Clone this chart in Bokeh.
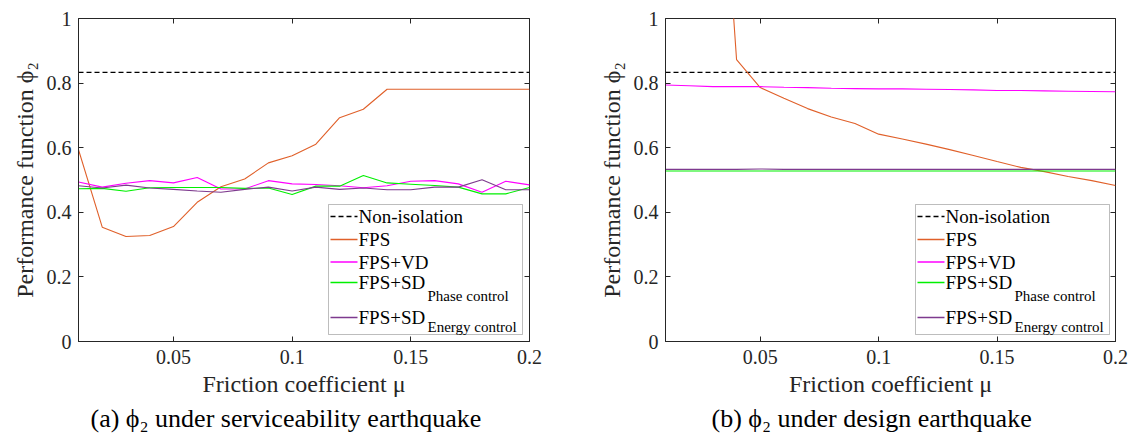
from bokeh.plotting import figure
from bokeh.layouts import row
from bokeh.models import (FixedTicker, LinearAxis, Label, BoxAnnotation, Arrow,
                          CustomJSTickFormatter, Title)
from bokeh.embed import file_html
from bokeh.resources import INLINE

# ---------------- data ----------------
mu = [0.01, 0.02, 0.03, 0.04, 0.05, 0.06, 0.07, 0.08, 0.09, 0.10,
      0.11, 0.12, 0.13, 0.14, 0.15, 0.16, 0.17, 0.18, 0.19, 0.20]

non_isolation = [0.833] * len(mu)

# (a) serviceability earthquake
a_fps = [0.594, 0.354, 0.325, 0.328, 0.356, 0.431, 0.479, 0.503, 0.553, 0.575,
         0.611, 0.693, 0.719, 0.781, 0.781, 0.781, 0.781, 0.781, 0.781, 0.781]
a_vd = [0.494, 0.478, 0.490, 0.498, 0.491, 0.508, 0.472, 0.472, 0.498, 0.488,
        0.486, 0.482, 0.476, 0.482, 0.496, 0.498, 0.488, 0.462, 0.496, 0.485]
a_phase = [0.473, 0.474, 0.465, 0.476, 0.477, 0.477, 0.477, 0.474, 0.475, 0.455,
           0.481, 0.481, 0.514, 0.491, 0.487, 0.483, 0.478, 0.457, 0.457, 0.477]
a_energy = [0.482, 0.475, 0.484, 0.475, 0.471, 0.466, 0.462, 0.471, 0.478, 0.466,
            0.478, 0.471, 0.475, 0.470, 0.470, 0.478, 0.478, 0.501, 0.470, 0.470]

# (b) design earthquake
b_fps = [6.000, 3.200, 1.930, 0.873, 0.786, 0.753, 0.721, 0.695, 0.675, 0.642,
         0.627, 0.611, 0.594, 0.576, 0.557, 0.539, 0.526, 0.511, 0.498, 0.483]
b_vd = [0.794, 0.792, 0.789, 0.789, 0.789, 0.787, 0.786, 0.784, 0.783, 0.782,
        0.782, 0.781, 0.780, 0.779, 0.777, 0.777, 0.776, 0.775, 0.774, 0.773]
b_phase = [0.528, 0.528, 0.528, 0.528, 0.528, 0.528, 0.528, 0.528, 0.528, 0.528,
           0.528, 0.528, 0.528, 0.528, 0.528, 0.528, 0.528, 0.528, 0.528, 0.528]
b_energy = [0.533, 0.533, 0.533, 0.533, 0.534, 0.533, 0.533, 0.533, 0.533, 0.533,
            0.533, 0.533, 0.533, 0.533, 0.533, 0.533, 0.533, 0.533, 0.533, 0.533]

x_ticks = [0.05, 0.1, 0.15, 0.2]
y_ticks = [0, 0.2, 0.4, 0.6, 0.8, 1]

legend_main = ["Non-isolation", "FPS", "FPS+VD", "FPS+SD", "FPS+SD"]
legend_sub = ["", "", "", "Phase control", "Energy control"]
colors = ["#000000", "#E0602A", "#FF00FF", "#00F000", "#7E3A8E"]
dashes = ["5 3", "solid", "solid", "solid", "solid"]

x_label = "Friction coefficient \u03bc"
y_label = "Performance function \u03d5\u2082"
captions = ["(a) \u03d5\u2082 under serviceability earthquake",
            "(b) \u03d5\u2082 under design earthquake"]

FONT = "Liberation Serif"
INK = "#262626"


def make_panel(series, caption, cap_offset, width, border_left, border_right):
    p = figure(width=width, height=441, x_range=(0.01, 0.2), y_range=(0, 1),
               output_backend="svg", toolbar_location=None,
               min_border_left=border_left, min_border_right=border_right,
               min_border_top=18, min_border_bottom=100)
    p.background_fill_color = "white"
    p.border_fill_color = "white"
    p.grid.visible = False
    p.outline_line_color = INK
    p.outline_line_width = 1

    p.xaxis.ticker = FixedTicker(ticks=x_ticks)
    p.yaxis.ticker = FixedTicker(ticks=y_ticks)
    p.xaxis.formatter = CustomJSTickFormatter(code="return String(tick)")
    p.yaxis.formatter = CustomJSTickFormatter(code="return String(tick)")
    for ax in (p.xaxis[0], p.yaxis[0]):
        ax.major_label_text_font = FONT
        ax.major_label_text_font_size = "20px"
        ax.major_label_text_color = INK
        ax.axis_label_text_font = FONT
        ax.axis_label_text_font_size = "24px"
        ax.axis_label_text_font_style = "normal"
        ax.axis_label_text_color = INK
        ax.axis_line_color = INK
        ax.major_tick_line_color = INK
        ax.major_tick_in = 5
        ax.major_tick_out = 0
        ax.minor_tick_line_color = None
    p.xaxis.axis_label = x_label
    p.yaxis.axis_label = y_label
    p.xaxis.major_label_standoff = 8
    p.xaxis.axis_label_standoff = 4
    p.yaxis.major_label_standoff = 7
    p.yaxis.axis_label_standoff = 6

    top = LinearAxis(ticker=FixedTicker(ticks=x_ticks), major_label_text_font_size="1px",
                     major_label_text_color=None, major_tick_in=5, major_tick_out=0,
                     minor_tick_line_color=None, axis_line_color=None,
                     major_label_standoff=0, major_tick_line_color=INK)
    right = LinearAxis(ticker=FixedTicker(ticks=y_ticks), major_label_text_font_size="1px",
                       major_label_text_color=None, major_tick_in=5, major_tick_out=0,
                       minor_tick_line_color=None, axis_line_color=None,
                       major_label_standoff=0, major_tick_line_color=INK)
    p.add_layout(top, "above")
    p.add_layout(right, "right")

    for ys, c, d in zip(series, colors, dashes):
        p.line(mu, ys, line_color=c, line_width=1.3 if d != "solid" else 1.1, line_dash=d)

    # legend (MATLAB style, with subscripts)
    p.add_layout(BoxAnnotation(left=250, right=444, bottom=7, top=137,
                               left_units="screen", right_units="screen",
                               bottom_units="screen", top_units="screen",
                               fill_color="white", fill_alpha=1,
                               line_color=INK, line_width=1, level="overlay"))
    row_y = [125, 102, 79.5, 59, 24]
    sub_y = [0, 0, 0, 46, 15]
    for i, (name, sub, c, d) in enumerate(zip(legend_main, legend_sub, colors, dashes)):
        p.add_layout(Arrow(x_start=252, y_start=row_y[i], x_end=279, y_end=row_y[i],
                           start_units="screen", end_units="screen", end=None,
                           line_color=c, line_width=1.3 if d != "solid" else 1.4,
                           line_dash=d, level="overlay"))
        p.add_layout(Label(x=280, y=row_y[i], x_units="screen", y_units="screen",
                           text=name, text_font=FONT, text_font_size="19px",
                           text_color="#000000", text_baseline="middle",
                           text_align="left", level="overlay"))
        if sub:
            p.add_layout(Label(x=349, y=sub_y[i], x_units="screen", y_units="screen",
                               text=sub, text_font=FONT, text_font_size="15px",
                               text_color="#000000", text_baseline="middle",
                               text_align="left", level="overlay"))

    # caption below the axis label
    p.add_layout(Title(text=caption, align="left", offset=cap_offset, text_font=FONT,
                       text_font_size="26px", text_font_style="normal",
                       text_color="#000000", standoff=4), "below")
    return p


p1 = make_panel([non_isolation, a_fps, a_vd, a_phase, a_energy], captions[0], 12, 567, 78, 38)
p2 = make_panel([non_isolation, b_fps, b_vd, b_phase, b_energy], captions[1], 46, 567, 98, 19)

layout = row(p1, p2)
open("out.html", "w").write(file_html(layout, INLINE))
